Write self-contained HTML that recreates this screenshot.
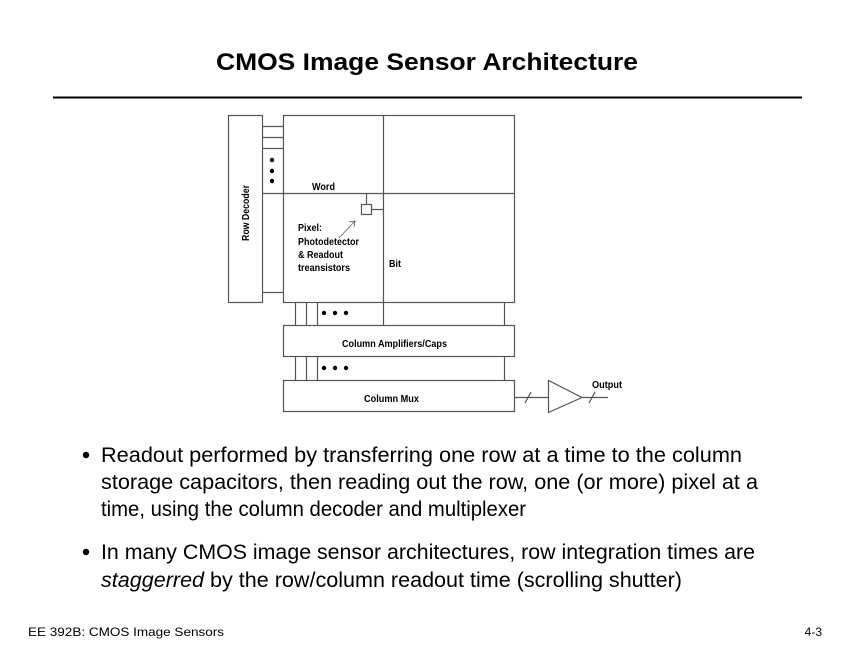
<!DOCTYPE html>
<html><head><style>body{margin:0;background:#fff}svg{display:block}</style></head><body>
<svg width="850" height="654" viewBox="0 0 850 654" xmlns="http://www.w3.org/2000/svg" font-family="Liberation Sans, sans-serif">
<text x="427" y="70" text-anchor="middle" font-size="24" font-weight="bold" textLength="422" lengthAdjust="spacingAndGlyphs">CMOS Image Sensor Architecture</text>
<line x1="53" y1="97.5" x2="802" y2="97.5" stroke="#000" stroke-width="2"/>
<g stroke="#555" stroke-width="1.2" fill="none">
<rect x="228.5" y="115.5" width="34" height="187"/>
<rect x="283.5" y="115.5" width="231" height="187"/>
<line x1="383.5" y1="115" x2="383.5" y2="325"/>
<line x1="262" y1="126.5" x2="284" y2="126.5"/>
<line x1="262" y1="137.5" x2="284" y2="137.5"/>
<line x1="262" y1="148.5" x2="284" y2="148.5"/>
<line x1="262" y1="193.5" x2="515" y2="193.5"/>
<line x1="262" y1="292.5" x2="284" y2="292.5"/>
<rect x="361.5" y="204.5" width="10" height="10"/>
<line x1="366.5" y1="193" x2="366.5" y2="204"/>
<line x1="372" y1="209.5" x2="383" y2="209.5"/>
<line x1="295.5" y1="302" x2="295.5" y2="325"/><line x1="306.5" y1="302" x2="306.5" y2="325"/><line x1="317.5" y1="302" x2="317.5" y2="325"/><line x1="504.5" y1="302" x2="504.5" y2="325"/>
<rect x="283.5" y="325.5" width="231" height="31"/>
<line x1="295.5" y1="357" x2="295.5" y2="380"/><line x1="306.5" y1="357" x2="306.5" y2="380"/><line x1="317.5" y1="357" x2="317.5" y2="380"/><line x1="504.5" y1="357" x2="504.5" y2="380"/>
<rect x="283.5" y="380.5" width="231" height="31"/>
<line x1="515" y1="397.5" x2="548" y2="397.5"/>
<line x1="525" y1="403" x2="531" y2="392"/>
<polygon points="548.5,380.5 548.5,412.5 582,397.5"/>
<line x1="582" y1="397.5" x2="608" y2="397.5"/>
<line x1="589" y1="403" x2="595" y2="392"/>
<line x1="339" y1="238" x2="355" y2="221" stroke-width="0.8"/>
<polyline points="349,222 355,221 354,227" stroke-width="0.8"/>
</g>
<g fill="#000">
<circle cx="272" cy="160" r="2.2"/><circle cx="272" cy="171" r="2.2"/><circle cx="272" cy="181" r="2.2"/>
<circle cx="324" cy="313" r="2.2"/><circle cx="335" cy="313" r="2.2"/><circle cx="346" cy="313" r="2.2"/>
<circle cx="324" cy="368" r="2.2"/><circle cx="335" cy="368" r="2.2"/><circle cx="346" cy="368" r="2.2"/>
</g>
<g font-size="10" font-weight="bold" lengthAdjust="spacingAndGlyphs">
<text transform="translate(249,213) rotate(-90)" text-anchor="middle" textLength="56" lengthAdjust="spacingAndGlyphs">Row Decoder</text>
<text x="312" y="190" textLength="23" lengthAdjust="spacingAndGlyphs">Word</text>
<text x="298" y="231" textLength="24" lengthAdjust="spacingAndGlyphs">Pixel:</text>
<text x="298" y="245" textLength="61" lengthAdjust="spacingAndGlyphs">Photodetector</text>
<text x="298" y="258" textLength="45" lengthAdjust="spacingAndGlyphs">&amp; Readout</text>
<text x="298" y="271" textLength="52" lengthAdjust="spacingAndGlyphs">treansistors</text>
<text x="389" y="267" textLength="12" lengthAdjust="spacingAndGlyphs">Bit</text>
<text x="342" y="347" textLength="105" lengthAdjust="spacingAndGlyphs">Column Amplifiers/Caps</text>
<text x="364" y="402" textLength="55" lengthAdjust="spacingAndGlyphs">Column Mux</text>
<text x="592" y="388" textLength="30" lengthAdjust="spacingAndGlyphs">Output</text>
</g>
<g font-size="21">
<circle cx="86" cy="455" r="3.2"/>
<text x="101" y="462" textLength="641" lengthAdjust="spacingAndGlyphs">Readout performed by transferring one row at a time to the column</text>
<text x="101" y="489" textLength="657" lengthAdjust="spacingAndGlyphs">storage capacitors, then reading out the row, one (or more) pixel at a</text>
<text x="101" y="516" textLength="425" lengthAdjust="spacingAndGlyphs">time, using the column decoder and multiplexer</text>
<circle cx="86" cy="552" r="3.2"/>
<text x="101" y="559" textLength="654" lengthAdjust="spacingAndGlyphs">In many CMOS image sensor architectures, row integration times are</text>
<text x="101" y="587" textLength="581" lengthAdjust="spacingAndGlyphs"><tspan font-style="italic">staggerred</tspan> by the row/column readout time (scrolling shutter)</text>
</g>
<text x="28" y="636" font-size="12" textLength="196" lengthAdjust="spacingAndGlyphs">EE 392B: CMOS Image Sensors</text>
<text x="822" y="636" font-size="12" text-anchor="end">4-3</text>
</svg>
</body></html>
